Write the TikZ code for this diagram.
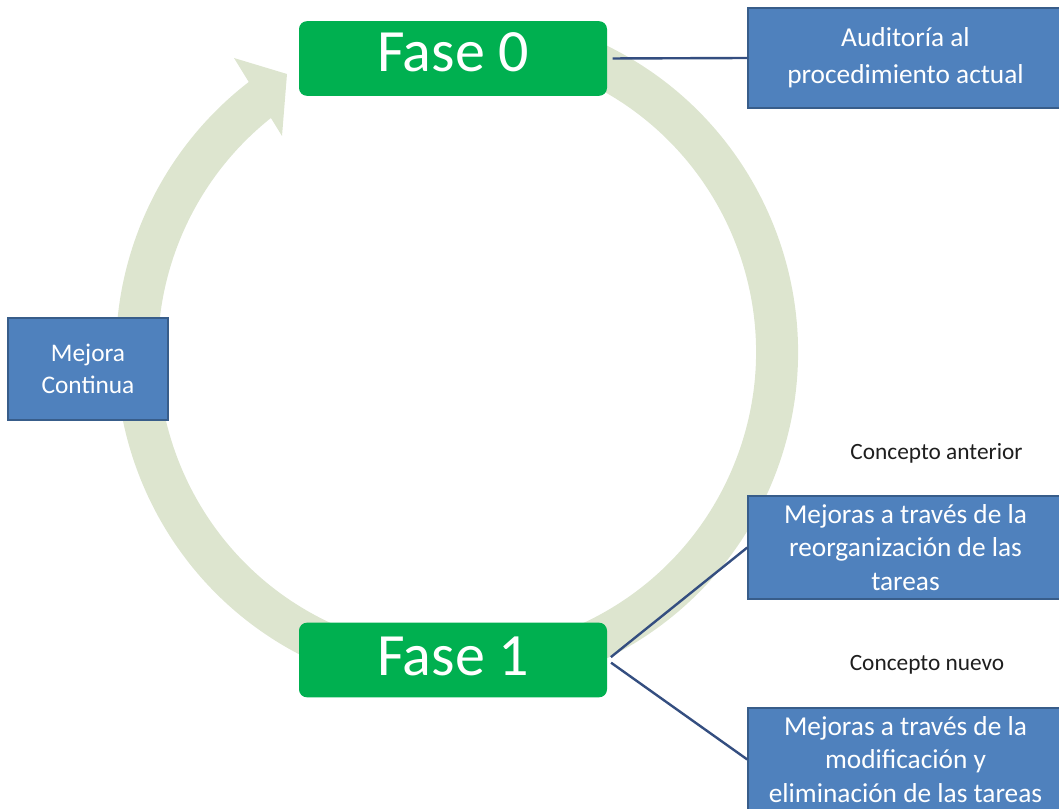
\documentclass[tikz,border=0pt]{standalone}
\usepackage{fontspec}
\setmainfont{Carlito}
\definecolor{fasegreen}{RGB}{0,176,80}
\definecolor{boxblue}{RGB}{79,129,189}
\definecolor{boxborder}{RGB}{56,93,138}
\definecolor{linkblue}{RGB}{52,78,128}
\definecolor{ringcol}{RGB}{221,229,207}
\definecolor{notegray}{RGB}{30,30,30}
\begin{document}
\begin{tikzpicture}[x=0.75pt,y=-0.75pt,
  phase/.style={fill=fasegreen, rounded corners=6pt, text=white,
    font=\fontsize{45}{54}\selectfont, inner sep=0pt,
    minimum width=231pt, minimum height=56pt},
  bluebox/.style={fill=boxblue, draw=boxborder, line width=1.3pt, text=white,
    align=center, inner sep=0pt, minimum width=236pt, minimum height=77pt,
    font=\fontsize{20.5}{25}\selectfont},
  link/.style={draw=linkblue, line width=1.8pt},
  note/.style={text=notegray, inner sep=0pt, font=\fontsize{17.5}{21}\selectfont}]
\useasboundingbox (0,0) rectangle (1059,809);
\clip (0,0) rectangle (1059,809);
% ring with arrow
\draw[ringcol, line width=31.5pt] (457,352) ++(-68:320)
  arc[start angle=-68, end angle=233.5, radius=320];
\fill[ringcol] (234,58) -- (287,74) -- (282,136) -- cycle;
% phases
\node[phase, text depth=10pt] (f0) at (453,58.5) {Fase 0};
\node[phase, text depth=5pt] (f1) at (453,660) {Fase 1};
% boxes
\node[bluebox, minimum height=75pt, font=\fontsize{20.5}{27.5}\selectfont] (aud) at (905.5,58) {Auditoría al\\procedimiento actual};
\node[bluebox, minimum width=120pt, minimum height=76.5pt, font=\fontsize{19}{24}\selectfont] (mc) at (88,369) {Mejora\\Continua};
\node[bluebox] (m1) at (905.5,547.5) {Mejoras a través de la\\reorganización de las\\tareas};
\node[bluebox] (m2) at (905.5,759.5) {Mejoras a través de la\\modificación y\\eliminación de las tareas};
% notes
\node[note] (ca) at (936.5,453) {Concepto anterior};
\node[note] (cn) at (927,665) {Concepto nuevo};
% connectors
\draw[link, shorten <=4pt] (f0.east) -- (aud.west);
\draw[link, shorten <=3.5pt] (f1.east) -- (m1.west);
\draw[link, shorten <=3.5pt] (f1.east) -- (m2.west);
\end{tikzpicture}
\end{document}
